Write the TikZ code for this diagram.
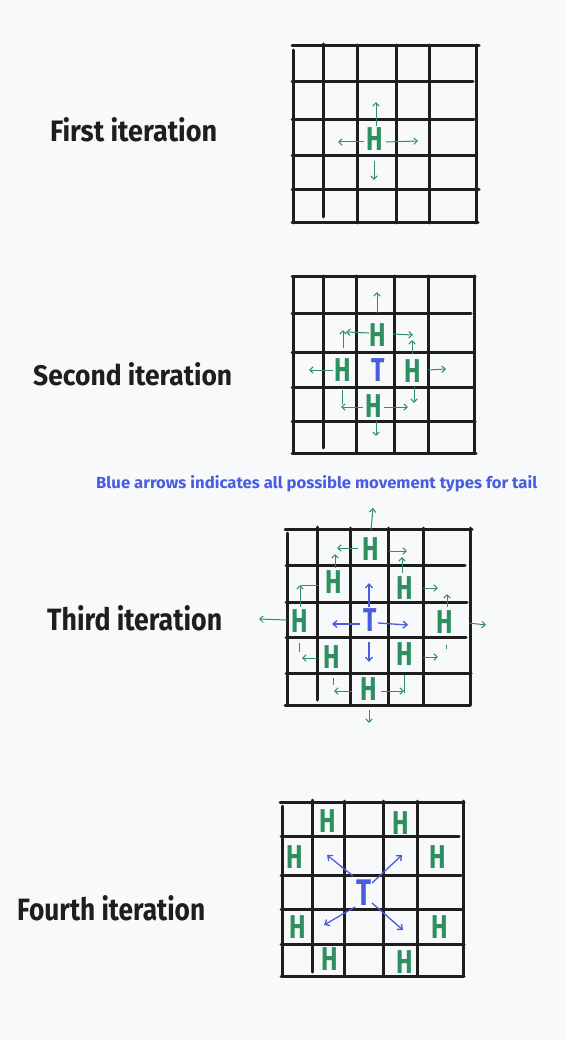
\documentclass[tikz,border=0pt]{standalone}
\usepackage{fontspec}
\setmainfont{Fira Sans}
\usetikzlibrary{arrows.meta}
\definecolor{bgc}{RGB}{248,249,251}
\definecolor{ink}{RGB}{30,30,30}
\definecolor{hgreen}{RGB}{47,143,96}
\definecolor{tblue}{RGB}{74,92,224}
\newcommand\narrow[1]{\scalebox{0.75}[1]{#1}}
\tikzset{
  gridline/.style={line width=3pt, draw=ink, line cap=round},
  garrow/.style={draw=hgreen, line width=1pt, -{Straight Barb[length=3.5pt,width=6.5pt]}},
  gline/.style={draw=hgreen, line width=1pt},
  barrow/.style={draw=tblue, line width=1.3pt, -{Straight Barb[length=4pt,width=7pt]}},
  hnode/.style={inner sep=0pt, text=hgreen, font=\fontsize{33}{33}\selectfont\bfseries},
  tnode/.style={inner sep=0pt, text=tblue, font=\fontsize{33}{33}\selectfont\bfseries},
  title/.style={inner sep=0pt, anchor=base west, text=ink, font=\bfseries},
  note/.style={inner sep=0pt, anchor=base west, text=tblue, font=\bfseries}
}
\begin{document}
\begin{tikzpicture}[x=1pt,y=-1pt]
\fill[bgc] (0,0) rectangle (566,1040);
\useasboundingbox (0,0) rectangle (566,1040);

% ---------- titles ----------
\node[title] (t1) at (50,142) {\resizebox{167pt}{24pt}{First iteration}};
\node[title] (t2) at (33,385) {\resizebox{199pt}{23pt}{Second iteration}};
\node[title] (t3) at (47,630) {\resizebox{175pt}{25pt}{Third iteration}};
\node[title] (t4) at (17,920) {\resizebox{188pt}{25pt}{Fourth iteration}};
\node[note] (nt) at (96,488) {\resizebox{441pt}{13pt}{Blue arrows indicates all possible movement types for tail}};

% ---------- grid 1 ----------
\draw[gridline] (293,50) -- (293,223);
\draw[gridline] (323,44) -- (323,217);
\foreach \x in {357,396,429,476} \draw[gridline] (\x,45) -- (\x,223);
\draw[gridline] (292,46) -- (479,46);
\draw[gridline] (292,82) -- (473,82);
\draw[gridline] (292,120) -- (474,120);
\draw[gridline] (292,156) -- (475,156);
\draw[gridline] (292,190) -- (479,190);
\draw[gridline] (292,223) -- (478,223);

\node[hnode] (g1h) at (375,139) {\narrow{H}};
\draw[garrow] (376,126) -- (376,102);
\draw[garrow] (374,161) -- (374,180);
\draw[garrow] (364,142) -- (338,142);
\draw[garrow] (386,142) -- (418,141);

% ---------- grid 2 ----------
\draw[gridline] (293,278) -- (293,453);
\draw[gridline] (323,276) -- (323,448);
\foreach \x in {356,394,428,474} \draw[gridline] (\x,276) -- (\x,453);
\draw[gridline] (292,277) -- (475,277);
\draw[gridline] (292,313) -- (471,313);
\draw[gridline] (292,352) -- (474,352);
\draw[gridline] (292,387) -- (474,387);
\draw[gridline] (292,421) -- (475,421);
\draw[gridline] (292,453) -- (476,453);

\node[hnode] (g2a) at (378,335) {\narrow{H}};
\node[hnode] (g2b) at (343,370) {\narrow{H}};
\node[tnode] (g2t) at (378,370) {\narrow{T}};
\node[hnode] (g2c) at (413,371) {\narrow{H}};
\node[hnode] (g2d) at (374,406) {\narrow{H}};

\draw[garrow] (377,313) -- (377,292);
\draw[garrow] (369,333) -- (346,332);
\draw[garrow] (343,348) -- (343,330);
\draw[garrow] (393,334) -- (413,335);
\draw[garrow] (412,354) -- (412,340);
\draw[garrow] (428,370) -- (446,369);
\draw[garrow] (414,387) -- (414,403);
\draw[garrow] (384,407) -- (408,407);
\draw[garrow] (363,407) -- (341,407);
\draw[gline] (342,390) -- (342,404);
\draw[garrow] (333,370) -- (309,370);
\draw[garrow] (376,421) -- (376,436);

% ---------- grid 3 ----------
\draw[gridline] (287,533) -- (287,705);
\draw[gridline] (317,527) -- (317,700);
\foreach \x in {350,388,423,470} \draw[gridline] (\x,528) -- (\x,705);
\draw[gridline] (285,529) -- (472,529);
\draw[gridline] (286,565) -- (465,565);
\draw[gridline] (286,602) -- (467,602);
\draw[gridline] (286,637) -- (466,637);
\draw[gridline] (286,673) -- (471,673);
\draw[gridline] (285,705) -- (470,705);

\node[hnode] (g3a) at (371,549) {\narrow{H}};
\node[hnode] (g3b) at (334,582) {\narrow{H}};
\node[hnode] (g3c) at (405,588) {\narrow{H}};
\node[hnode] (g3d) at (300,621) {\narrow{H}};
\node[tnode] (g3t) at (370,620) {\narrow{T}};
\node[hnode] (g3e) at (445,622) {\narrow{H}};
\node[hnode] (g3f) at (332,657) {\narrow{H}};
\node[hnode] (g3g) at (405,654) {\narrow{H}};
\node[hnode] (g3h) at (369,689) {\narrow{H}};

\draw[garrow] (371,530) -- (373,508);
\draw[garrow] (358,548) -- (337,548);
\draw[garrow] (389,551) -- (407,551);
\draw[garrow] (402,573) -- (402,557);
\draw[garrow] (423,588) -- (438,588);
\draw[garrow] (447,607) -- (447,594);
\draw[garrow] (469,623) -- (486,625);
\draw[garrow] (335,568) -- (335,554);
\draw[gline] (318,585) -- (301,585);
\draw[garrow] (300,607) -- (300,585);
\draw[garrow] (287,620) -- (259,619);
\draw[gline] (299,643) -- (299,652);
\draw[garrow] (317,658) -- (302,658);
\draw[garrow] (423,657) -- (438,657);
\draw[gline] (446,645) -- (446,649);
\draw[garrow] (352,691) -- (334,691);
\draw[gline] (333,678) -- (333,685);
\draw[garrow] (381,691) -- (404,691);
\draw[gline] (404,675) -- (404,693);
\draw[garrow] (369,710) -- (369,723);

\draw[barrow] (369,607) -- (369,583);
\draw[barrow] (360,624) -- (332,624);
\draw[barrow] (378,623) -- (408,625);
\draw[barrow] (369,642) -- (369,662);

% ---------- grid 4 ----------
\draw[gridline] (282,806) -- (282,976);
\draw[gridline] (312,800) -- (312,972);
\foreach \x in {344,383,417,463} \draw[gridline] (\x,801) -- (\x,976);
\draw[gridline] (280,802) -- (464,802);
\draw[gridline] (281,836) -- (459,836);
\draw[gridline] (281,875) -- (461,875);
\draw[gridline] (281,909) -- (462,909);
\draw[gridline] (281,944) -- (464,944);
\draw[gridline] (281,976) -- (464,976);

\node[hnode] (g4a) at (328,821) {\narrow{H}};
\node[hnode] (g4b) at (401,823) {\narrow{H}};
\node[hnode] (g4c) at (295,857) {\narrow{H}};
\node[hnode] (g4d) at (438,857) {\narrow{H}};
\node[hnode] (g4e) at (298,927) {\narrow{H}};
\node[hnode] (g4f) at (440,927) {\narrow{H}};
\node[hnode] (g4g) at (330,959) {\narrow{H}};
\node[hnode] (g4h) at (405,962) {\narrow{H}};
\node[tnode, font=\fontsize{37}{37}\selectfont\bfseries] (g4t) at (364,893) {\narrow{T}};

\draw[barrow] (353,876) -- (327,855);
\draw[barrow] (372,883) -- (402,855);
\draw[barrow] (355,907) -- (324,925);
\draw[barrow] (372,903) -- (403,930);
\end{tikzpicture}
\end{document}
